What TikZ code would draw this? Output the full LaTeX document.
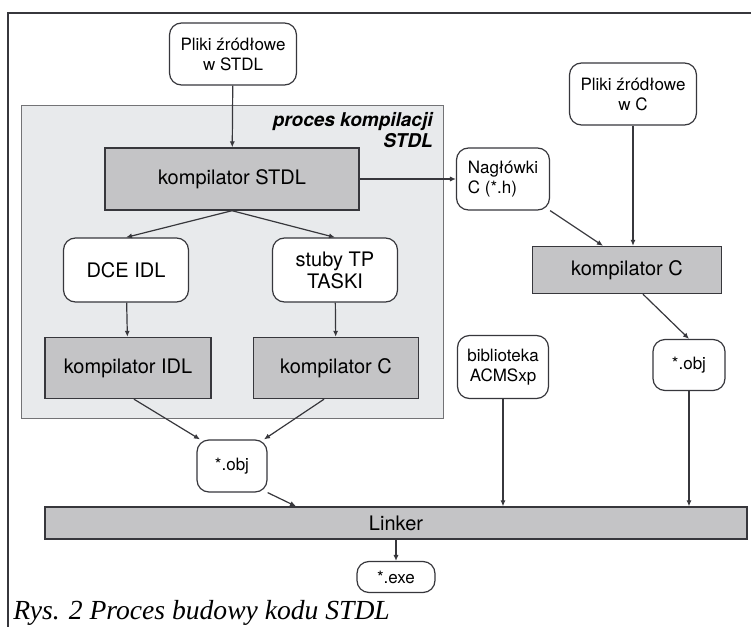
\documentclass[tikz,border=0pt]{standalone}
\usepackage{fontspec}
\setmainfont{Liberation Serif}
\setsansfont{TeX Gyre Heros}
\usetikzlibrary{arrows.meta,positioning,backgrounds}
\definecolor{liniaszara}{RGB}{55,55,60}
\definecolor{panelszary}{RGB}{232,234,236}
\definecolor{kompszary}{RGB}{196,196,198}
\begin{document}
\begin{tikzpicture}[x=0.5pt, y=-0.5pt,
    plik/.style={rectangle, rounded corners=6pt, draw=liniaszara, fill=white,
                 line width=0.6pt, align=center, inner sep=1pt,
                 font=\sffamily\fontsize{8.5}{10}\selectfont},
    kompilator/.style={rectangle, draw=liniaszara, fill=kompszary,
                 line width=0.7pt, align=center, inner sep=1pt,
                 font=\sffamily\fontsize{10}{12}\selectfont},
    arrow/.style={-{Latex[length=3pt,width=2.6pt]}, line width=0.6pt, color=liniaszara}
  ]
    \useasboundingbox (0,0) rectangle (751,627);
    \fill[white] (0,0) rectangle (751,627);
    % ramka
    \draw[liniaszara, line width=0.6pt] (751,13) -- (8,13) -- (8,627);

    % proces kompilacji STDL
    \node[draw=liniaszara!70, fill=panelszary, line width=0.5pt, minimum width=211pt,
          minimum height=156.5pt, inner sep=0pt] (panel) at (232,261.5) {};
    \node[font=\sffamily\bfseries\itshape\fontsize{9.5}{10.5}\selectfont, align=right,
          anchor=north east, inner sep=0pt] (tytul) at (433,112)
          {proces kompilacji\\STDL};

    \node[plik, minimum width=63.5pt, minimum height=31pt] (zrodlaSTDL) at (233,54)
          {Pliki źródłowe\\w STDL};
    \node[kompilator, minimum width=127pt, minimum height=31pt] (kompSTDL) at (232,179)
          {kompilator STDL};
    \node[plik, minimum width=62.5pt, minimum height=32pt,
          font=\sffamily\fontsize{10}{11}\selectfont] (dceidl) at (126,270) {DCE IDL};
    \node[plik, minimum width=62.5pt, minimum height=32pt,
          font=\sffamily\fontsize{10}{11}\selectfont] (stuby) at (335,270) {stuby TP\\TASKI};
    \node[kompilator, minimum width=83pt, minimum height=30.5pt] (kompIDL) at (128,368)
          {kompilator IDL};
    \node[kompilator, minimum width=82.5pt, minimum height=30.5pt] (kompCl) at (336,368)
          {kompilator C};
    \node[plik, minimum width=35pt, minimum height=26pt] (objl) at (232,466) {*.obj};

    % prawa strona
    \node[plik, minimum width=63.5pt, minimum height=31pt] (zrodlaC) at (633,94)
          {Pliki źródłowe\\w C};
    \node[plik, minimum width=46.5pt, minimum height=31pt, align=left] (naglowki) at (503,179)
          {Nagłówki\\C (*.h)};
    \node[kompilator, minimum width=94.5pt, minimum height=23.5pt] (kompCp) at (627,270)
          {kompilator C};
    \node[plik, minimum width=45.5pt, minimum height=31.5pt] (biblioteka) at (503,367)
          {biblioteka\\ACMSxp};
    \node[plik, minimum width=36pt, minimum height=25.5pt] (objp) at (689,365) {*.obj};

    \node[kompilator, minimum width=351pt, minimum height=16pt] (linker) at (396,523) {Linker};
    \node[plik, minimum width=39pt, minimum height=15.5pt] (exe) at (396,577) {*.exe};

    \node[font=\itshape\fontsize{13.8}{15}\selectfont, anchor=base west, inner sep=0pt]
          (podpis) at (13,619) {Rys. 2 Proces budowy kodu STDL};

    \draw[arrow] (zrodlaSTDL) -- (kompSTDL);
    \draw[arrow] (kompSTDL.east) -- (naglowki.west);
    \draw[arrow] (kompSTDL.south) -- (dceidl.north);
    \draw[arrow] (kompSTDL.south) -- (stuby.north);
    \draw[arrow] (dceidl) -- (kompIDL);
    \draw[arrow] (stuby) -- (kompCl);
    \draw[arrow] ([xshift=3pt]kompIDL.south) -- ([xshift=-16pt]objl.north);
    \draw[arrow] ([xshift=-6pt]kompCl.south) -- ([xshift=16pt]objl.north);
    \draw[arrow] (objl.south east) -- ([xshift=-50pt]linker.north);
    \draw[arrow] (naglowki.south east) -- ([xshift=-12pt]kompCp.north);
    \draw[arrow] (zrodlaC.south) -- (kompCp.north -| zrodlaC.south);
    \draw[arrow] ([xshift=8pt]kompCp.south) -- (objp.north);
    \draw[arrow] (biblioteka.south) -- (linker.north -| biblioteka.south);
    \draw[arrow] (objp.south) -- (linker.north -| objp.south);
    \draw[arrow] (linker) -- (exe);
  \end{tikzpicture}
\end{document}
